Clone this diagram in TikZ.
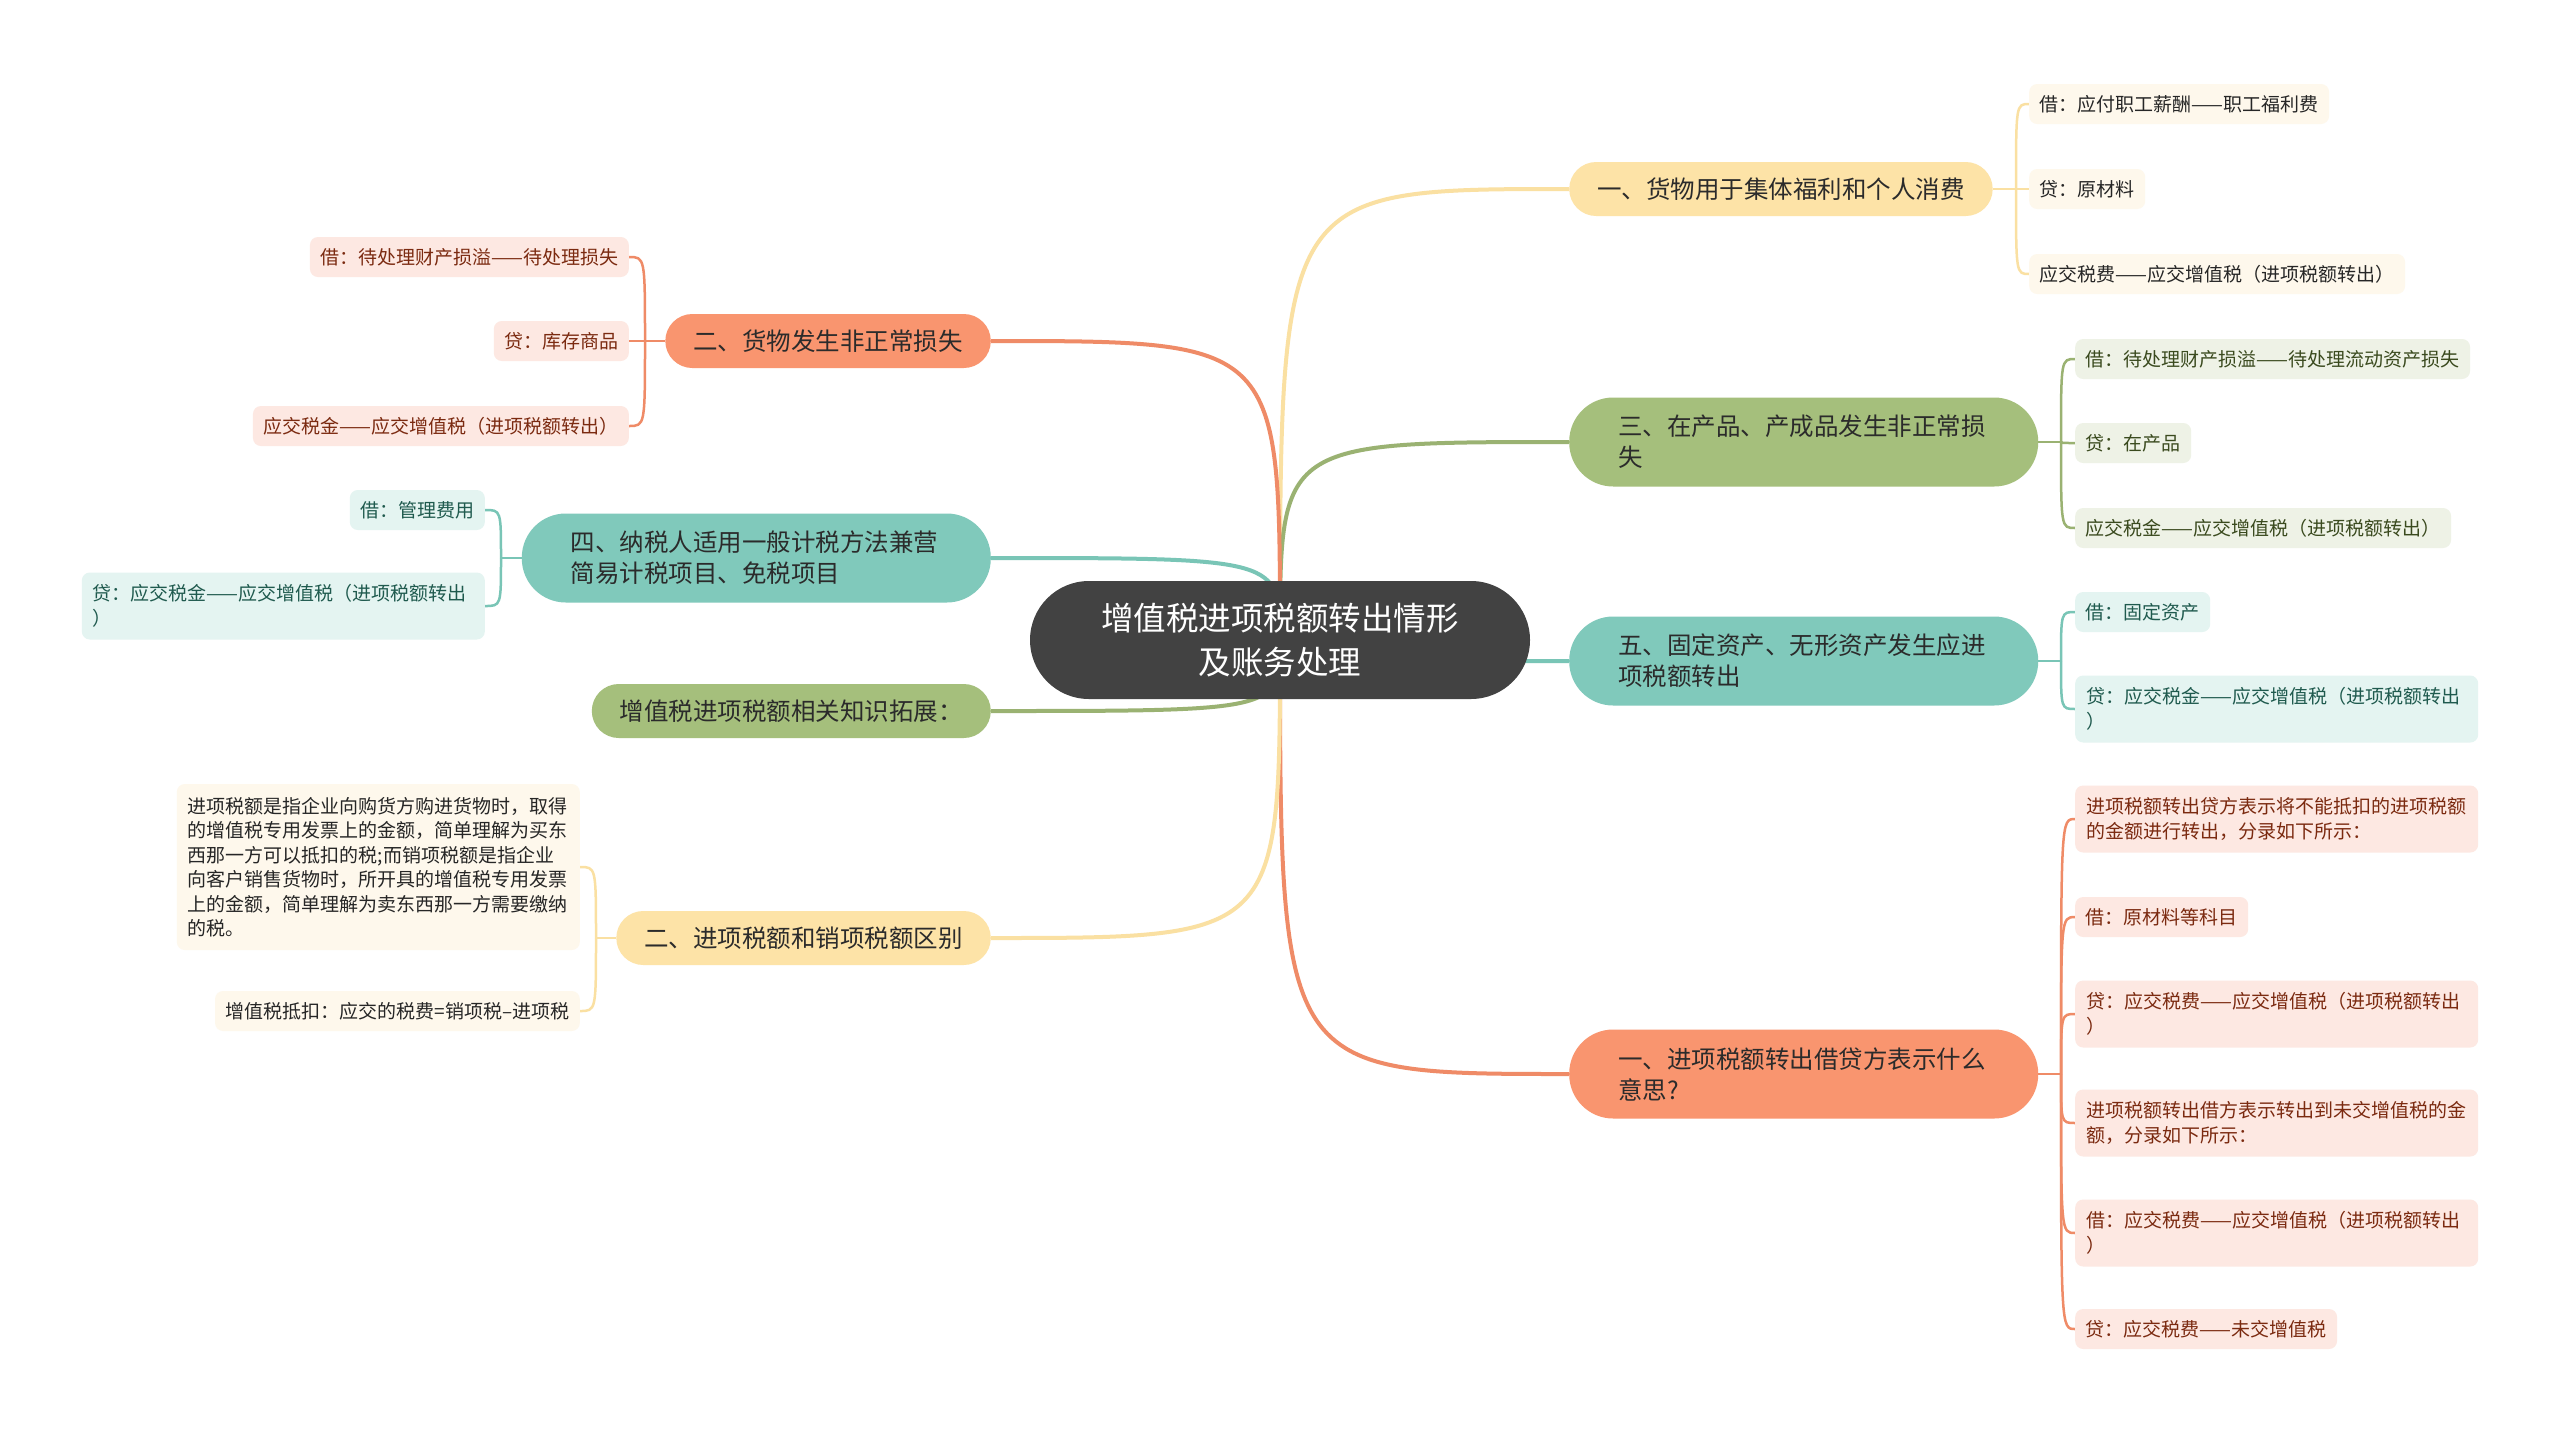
\documentclass[tikz,border=0pt]{standalone}
\usepackage{fontspec}
\setmainfont{Noto Sans CJK SC}
\usetikzlibrary{backgrounds,calc}
\definecolor{cdark}{HTML}{424242}
\definecolor{cyel}{HTML}{FDE3A7}
\definecolor{cgrn}{HTML}{A5BF7C}
\definecolor{ctea}{HTML}{80C9BB}
\definecolor{csal}{HTML}{F9956F}
\definecolor{lyel}{HTML}{FEF8EC}
\definecolor{lgrn}{HTML}{EEF2E6}
\definecolor{ltea}{HTML}{E4F4F1}
\definecolor{lsal}{HTML}{FDE8E2}
\definecolor{tyel}{HTML}{262626}
\definecolor{tgrn}{HTML}{3A4A1E}
\definecolor{ttea}{HTML}{1F5A4E}
\definecolor{tsal}{HTML}{7B2A10}
\definecolor{kyel}{HTML}{FAE0A2}
\definecolor{kgrn}{HTML}{9AB272}
\definecolor{ktea}{HTML}{79C5B6}
\definecolor{ksal}{HTML}{EF8B67}
\definecolor{maintext}{HTML}{2B2B2B}
\begin{document}
\begin{tikzpicture}[x=1pt,y=-1pt,
  mainbox/.style={rounded corners=27pt, minimum height=54pt, inner xsep=28pt, inner ysep=0pt,
    font=\fontsize{24.5}{31}\selectfont, text=maintext},
  mainboxtwo/.style={rounded corners=44pt, minimum height=89pt, inner xsep=49pt, inner ysep=0pt,
    text width=371pt, align=left, font=\fontsize{24.5}{31}\selectfont, text=maintext},
  childbox/.style={rounded corners=8pt, minimum height=40pt, inner xsep=10.5pt, inner ysep=0pt,
    font=\fontsize{19}{24.5}\selectfont},
  childboxtwo/.style={childbox, text width=381pt, align=left, inner xsep=11pt, minimum height=67pt},
  ylw/.style={fill=lyel, text=tyel},
  grn/.style={fill=lgrn, text=tgrn},
  tea/.style={fill=ltea, text=ttea},
  sal/.style={fill=lsal, text=tsal},
  mconn/.style={line width=4pt},
  cconn/.style={line width=2.5pt},
]
\useasboundingbox (0,0) rectangle (2560,1433);

% center
\node[fill=cdark, text=white, rounded corners=59pt, minimum width=500pt, minimum height=118pt,
  align=center, font=\fontsize{32.5}{44}\selectfont] (ctr) at (1280,640)
  {增值税进项税额转出情形\\及账务处理};

% right side
\node[mainbox, fill=cyel, anchor=west] (r1) at (1569,189) {一、货物用于集体福利和个人消费};
\node[childbox, ylw, anchor=west] (r1a) at (2029,104) {借：应付职工薪酬——职工福利费};
\node[childbox, ylw, anchor=west] (r1b) at (2029,189) {贷：原材料};
\node[childbox, ylw, anchor=west] (r1c) at (2029,274) {应交税费——应交增值税（进项税额转出）};

\node[mainboxtwo, fill=cgrn, anchor=west] (r2) at (1569,442) {三、在产品、产成品发生非正常损\\失};
\node[childbox, grn, anchor=west] (r2a) at (2075,359) {借：待处理财产损溢——待处理流动资产损失};
\node[childbox, grn, anchor=west] (r2b) at (2075,443) {贷：在产品};
\node[childbox, grn, anchor=west] (r2c) at (2075,528) {应交税金——应交增值税（进项税额转出）};

\node[mainboxtwo, fill=ctea, anchor=west] (r3) at (1569,661) {五、固定资产、无形资产发生应进\\项税额转出};
\node[childbox, tea, anchor=west] (r3a) at (2075,612) {借：固定资产};
\node[childboxtwo, tea, anchor=west] (r3b) at (2075,709) {贷：应交税金——应交增值税（进项税额转出\\）};

\node[mainboxtwo, fill=csal, anchor=west] (r4) at (1569,1074) {一、进项税额转出借贷方表示什么\\意思?};
\node[childboxtwo, sal, anchor=west] (r4a) at (2075,819) {进项税额转出贷方表示将不能抵扣的进项税额\\的金额进行转出，分录如下所示：};
\node[childbox, sal, anchor=west] (r4b) at (2075,917) {借：原材料等科目};
\node[childboxtwo, sal, anchor=west] (r4c) at (2075,1014) {贷：应交税费——应交增值税（进项税额转出\\）};
\node[childboxtwo, sal, anchor=west] (r4d) at (2075,1123) {进项税额转出借方表示转出到未交增值税的金\\额，分录如下所示：};
\node[childboxtwo, sal, anchor=west] (r4e) at (2075,1233) {借：应交税费——应交增值税（进项税额转出\\）};
\node[childbox, sal, anchor=west] (r4f) at (2075,1329) {贷：应交税费——未交增值税};

% left side
\node[mainbox, fill=csal, anchor=east] (l1) at (991,341) {二、货物发生非正常损失};
\node[childbox, sal, anchor=east] (l1a) at (629,257) {借：待处理财产损溢——待处理损失};
\node[childbox, sal, anchor=east] (l1b) at (629,341) {贷：库存商品};
\node[childbox, sal, anchor=east] (l1c) at (629,426) {应交税金——应交增值税（进项税额转出）};

\node[mainboxtwo, fill=ctea, anchor=east] (l2) at (991,558) {四、纳税人适用一般计税方法兼营\\简易计税项目、免税项目};
\node[childbox, tea, anchor=east] (l2a) at (485,510) {借：管理费用};
\node[childboxtwo, tea, anchor=east] (l2b) at (485,606) {贷：应交税金——应交增值税（进项税额转出\\）};

\node[mainbox, fill=cgrn, anchor=east] (l3) at (991,711) {增值税进项税额相关知识拓展：};

\node[mainbox, fill=cyel, anchor=east] (l4) at (991,938) {二、进项税额和销项税额区别};
\node[childboxtwo, ylw, anchor=east, minimum height=166pt] (l4a) at (580,867)
  {进项税额是指企业向购货方购进货物时，取得\\的增值税专用发票上的金额，简单理解为买东\\西那一方可以抵扣的税;而销项税额是指企业\\向客户销售货物时，所开具的增值税专用发票\\上的金额，简单理解为卖东西那一方需要缴纳\\的税。};
\node[childbox, ylw, anchor=east] (l4b) at (580,1011) {增值税抵扣：应交的税费=销项税–进项税};

% junctions
\coordinate (r1j) at ($(r1a.west |- r1.east)+(-13,0)$);
\coordinate (r2j) at ($(r2a.west |- r2.east)+(-14,0)$);
\coordinate (r3j) at ($(r3a.west |- r3.east)+(-14,0)$);
\coordinate (r4j) at ($(r4a.west |- r4.east)+(-14,0)$);
\coordinate (l1j) at ($(l1a.east |- l1.west)+(16,0)$);
\coordinate (l2j) at ($(l2a.east |- l2.west)+(16,0)$);
\coordinate (l4j) at ($(l4a.east |- l4.west)+(16,0)$);

\begin{scope}[on background layer]
\fill[white] (0,0) rectangle (2560,1433);
% main connectors
\draw[mconn, kyel] (ctr.center) .. controls (ctr.center |- r1.west) .. (r1.west);
\draw[mconn, kgrn] (ctr.center) .. controls (ctr.center |- r2.west) .. (r2.west);
\draw[mconn, ktea] (ctr.center) .. controls (ctr.center |- r3.west) .. (r3.west);
\draw[mconn, ksal] (ctr.center) .. controls (ctr.center |- r4.west) .. (r4.west);
\draw[mconn, ksal] (ctr.center) .. controls (ctr.center |- l1.east) .. (l1.east);
\draw[mconn, ktea] (ctr.center) .. controls (ctr.center |- l2.east) .. (l2.east);
\draw[mconn, kgrn] (ctr.center) .. controls (ctr.center |- l3.east) .. (l3.east);
\draw[mconn, kyel] (ctr.center) .. controls (ctr.center |- l4.east) .. (l4.east);
% child connectors
\draw[cconn, kyel] (r1.east) -- (r1j);
\foreach \c in {r1a,r1b,r1c} \draw[cconn, kyel] (r1j) .. controls (r1j |- \c.west) .. (\c.west);
\draw[cconn, kgrn] (r2.east) -- (r2j);
\foreach \c in {r2a,r2b,r2c} \draw[cconn, kgrn] (r2j) .. controls (r2j |- \c.west) .. (\c.west);
\draw[cconn, ktea] (r3.east) -- (r3j);
\foreach \c in {r3a,r3b} \draw[cconn, ktea] (r3j) .. controls (r3j |- \c.west) .. (\c.west);
\draw[cconn, ksal] (r4.east) -- (r4j);
\foreach \c in {r4a,r4b,r4c,r4d,r4e,r4f} \draw[cconn, ksal] (r4j) .. controls (r4j |- \c.west) .. (\c.west);
\draw[cconn, ksal] (l1.west) -- (l1j);
\foreach \c in {l1a,l1b,l1c} \draw[cconn, ksal] (l1j) .. controls (l1j |- \c.east) .. (\c.east);
\draw[cconn, ktea] (l2.west) -- (l2j);
\foreach \c in {l2a,l2b} \draw[cconn, ktea] (l2j) .. controls (l2j |- \c.east) .. (\c.east);
\draw[cconn, kyel] (l4.west) -- (l4j);
\foreach \c in {l4a,l4b} \draw[cconn, kyel] (l4j) .. controls (l4j |- \c.east) .. (\c.east);
\end{scope}
\end{tikzpicture}
\end{document}
